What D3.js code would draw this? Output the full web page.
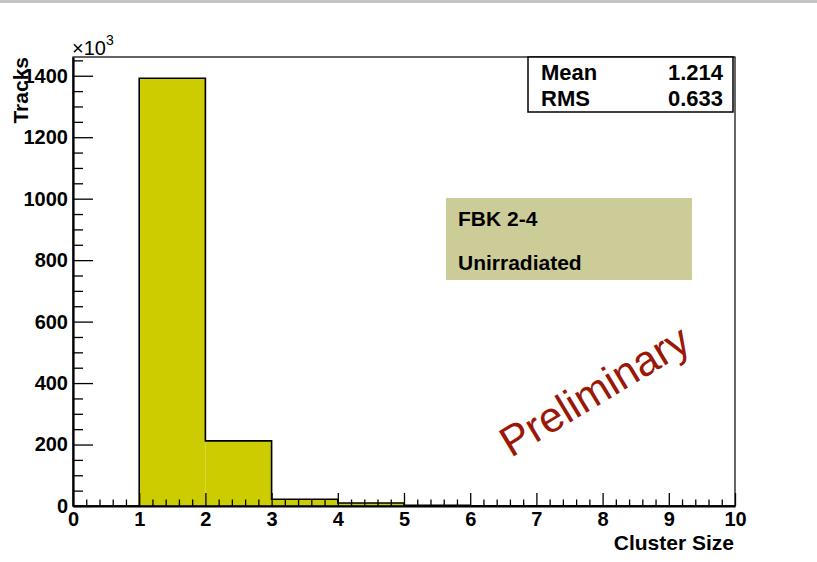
<!DOCTYPE html>
<html>
<head>
<meta charset="utf-8">
<script src="https://cdn.jsdelivr.net/npm/d3@7"></script>
<style>
  body { margin: 0; background: #fff; }
  svg text { font-family: "Liberation Sans", Arial, Helvetica, sans-serif; }
</style>
</head>
<body>
<div class="chart"></div>
<script>
// cluster size histogram, counts in units of 10^3 tracks
const binStarts = [0, 1, 2, 3, 4, 5, 6, 7, 8, 9];
const binCounts = [0, 1392, 212, 22, 10, 2.5, 1, 0.5, 0.2, 0.1];
const xTicks = [0, 1, 2, 3, 4, 5, 6, 7, 8, 9, 10];
const yTicks = [0, 200, 400, 600, 800, 1000, 1200, 1400];
const statNames = ["Mean", "RMS"];
const statValues = ["1.214", "0.633"];
const infoLines = ["FBK 2-4", "Unirradiated"];

const W = 817, H = 562;
const margin = {top: 57, right: 82, bottom: 56, left: 73};
const chartWidth = W - margin.left - margin.right;
const height = H - margin.top - margin.bottom;

let svg = d3.select(".chart")
  .append("svg")
    .attr("width", W)
    .attr("height", H);

// grey strip across the top of the canvas
svg.append("rect")
  .attr("x", 0).attr("y", 0)
  .attr("width", W).attr("height", 3)
  .attr("fill", "#c4c4c4");

let chart = svg.append("g")
  .attr("transform", "translate(" + margin.left + "," + margin.top + ")");

let x = d3.scaleLinear()
  .domain([0, 10])
  .range([0, chartWidth]);

let y = d3.scaleLinear()
  .domain([0, 1461])
  .range([height, 0]);

// bars
chart.selectAll(".bar")
  .data(binStarts)
  .enter().append("rect")
    .attr("class", "bar")
    .attr("x", d => x(d))
    .attr("y", (d, i) => y(binCounts[i]))
    .attr("width", d => x(d + 1) - x(d))
    .attr("height", (d, i) => y(0) - y(binCounts[i]))
    .attr("fill", "#cccc00");

// outline as a step line
let outline = [{x: 0, y: 0}];
binStarts.forEach((d, i) => outline.push({x: d, y: binCounts[i]}));
outline.push({x: 10, y: binCounts[binCounts.length - 1]});
outline.push({x: 10, y: 0});

let line = d3.line()
  .x(d => x(d.x))
  .y(d => y(d.y))
  .curve(d3.curveStepAfter);

chart.append("path")
  .datum(outline)
  .attr("fill", "none")
  .attr("stroke", "#000")
  .attr("stroke-width", 1.6)
  .attr("d", line);

// frame
chart.append("rect")
  .attr("x", 0).attr("y", 0)
  .attr("width", chartWidth).attr("height", height)
  .attr("fill", "none")
  .attr("stroke", "#000")
  .attr("stroke-width", 1.2);

// minor ticks
let xMinor = d3.range(0, 50).map(i => i / 5).filter(v => v % 1 !== 0);
let yMinor = d3.range(0, 30).map(i => i * 50).filter(v => v % 200 !== 0);

chart.append("g")
  .attr("transform", "translate(0," + height + ")")
  .call(d3.axisBottom(x).tickValues(xMinor).tickSize(-6.5).tickSizeOuter(0).tickFormat(""))
  .call(g => g.select(".domain").remove())
  .selectAll("line").attr("stroke-width", 1.3);

chart.append("g")
  .call(d3.axisLeft(y).tickValues(yMinor).tickSize(-10).tickSizeOuter(0).tickFormat(""))
  .call(g => g.select(".domain").remove())
  .selectAll("line").attr("stroke-width", 1.3);

// major ticks + labels
let xAxis = chart.append("g")
  .attr("transform", "translate(0," + height + ")")
  .call(d3.axisBottom(x).tickValues(xTicks).tickSize(-13).tickSizeOuter(0).tickPadding(6));
xAxis.select(".domain").attr("stroke-width", 2.2);
xAxis.selectAll("line").attr("stroke-width", 1.3);
xAxis.selectAll("text")
  .attr("font-size", 20).attr("font-weight", "bold")
  .attr("fill", "#000");

let yAxis = chart.append("g")
  .call(d3.axisLeft(y).tickValues(yTicks).tickSize(-20).tickSizeOuter(0).tickPadding(5)
    .tickFormat(d3.format("d")));
yAxis.select(".domain").attr("stroke-width", 2.2);
yAxis.selectAll("line").attr("stroke-width", 1.3);
yAxis.selectAll("text")
  .attr("font-size", 20).attr("font-weight", "bold")
  .attr("fill", "#000");

// axis titles
svg.append("text")
  .attr("x", 734).attr("y", 550)
  .attr("text-anchor", "end")
  .attr("font-size", 21).attr("font-weight", "bold")
  .text("Cluster Size");

svg.append("text")
  .attr("transform", "translate(28,57) rotate(-90)")
  .attr("text-anchor", "end")
  .attr("font-size", 21).attr("font-weight", "bold")
  .text("Tracks");

let mult = svg.append("text")
  .attr("x", 72).attr("y", 55)
  .attr("font-size", 20);
mult.append("tspan").text("\u00d710");
mult.append("tspan").attr("dy", -10).attr("font-size", 14).text("3");

// stats box
svg.append("rect")
  .attr("x", 528).attr("y", 57)
  .attr("width", 205).attr("height", 55)
  .attr("fill", "#fff")
  .attr("stroke", "#000")
  .attr("stroke-width", 1.5);

statNames.forEach((s, i) => {
  svg.append("text")
    .attr("x", 541).attr("y", 80 + i * 26)
    .attr("font-size", 22).attr("font-weight", "bold")
    .text(s);
  svg.append("text")
    .attr("x", 723).attr("y", 80 + i * 26)
    .attr("text-anchor", "end")
    .attr("font-size", 22).attr("font-weight", "bold")
    .text(statValues[i]);
});

// info box
svg.append("rect")
  .attr("x", 446).attr("y", 198)
  .attr("width", 246).attr("height", 82)
  .attr("fill", "#cccc99");

infoLines.forEach((s, i) => {
  svg.append("text")
    .attr("x", 458).attr("y", 226 + i * 43.5)
    .attr("font-size", 21).attr("font-weight", "bold")
    .text(s);
});

// watermark
svg.append("text")
  .attr("transform", "translate(511,458) rotate(-31)")
  .attr("font-size", 42.5)
  .attr("fill", "#9a1808")
  .text("Preliminary");
</script>
</body>
</html>
